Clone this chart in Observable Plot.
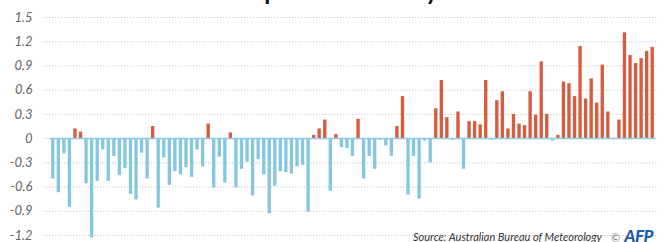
<!DOCTYPE html>
<html>
<head>
<meta charset="utf-8">
<script src="https://cdn.jsdelivr.net/npm/d3@7"></script>
<script src="https://cdn.jsdelivr.net/npm/@observablehq/plot@0.6"></script>
<style>
  body { margin: 0; background: #fff; }
  #wrap { position: relative; width: 668px; height: 242px; overflow: hidden; font-family: Lato, "Open Sans", sans-serif; }
  #title { position: absolute; top: -19px; left: 0; width: 668px; text-align: center; font-weight: 900; font-size: 22px; line-height: 22px; color: #111; white-space: nowrap; }
  #chart { position: absolute; top: 0; left: 0; }
  #source { position: absolute; left: 413px; top: 231px; font-style: italic; font-size: 11px; line-height: 12px; color: #333; white-space: nowrap; }
  #afp { position: absolute; left: 611px; top: 228px; white-space: nowrap; line-height: 16px; }
  #afp .c { font-size: 11px; color: #777; }
  #afp .l { font-size: 17px; font-weight: 900; font-style: italic; color: #1f5bb0; letter-spacing: -0.5px; }
</style>
</head>
<body>
<div id="wrap">
  <div id="title">Australia's temperature anomaly since 1910</div>
  <div id="chart"></div>
  <div id="source">Source: Australian Bureau of Meteorology</div>
  <div id="afp"><span class="c">©</span> <span class="l">AFP</span></div>
</div>
<script>
const startYear = 1910;
const endYear = 2018;
const years = d3.range(startYear, endYear + 1);
const anomalies = [
  -0.50, -0.67, -0.19, -0.85, 0.12, 0.08, -0.56, -1.23, -0.53, -0.14,
  -0.53, -0.22, -0.46, -0.37, -0.69, -0.76, -0.18, -0.50, 0.15, -0.86,
  -0.24, -0.58, -0.41, -0.45, -0.36, -0.48, -0.14, -0.35, 0.18, -0.61,
  -0.23, -0.55, 0.07, -0.61, -0.38, -0.29, -0.71, -0.26, -0.45, -0.93,
  -0.59, -0.41, -0.42, -0.44, -0.35, -0.33, -0.91, 0.04, 0.12, 0.23,
  -0.65, 0.05, -0.11, -0.12, -0.22, 0.24, -0.50, -0.22, -0.38, -0.02,
  -0.09, -0.22, 0.15, 0.52, -0.70, -0.22, -0.75, -0.03, -0.30, 0.37,
  0.72, 0.26, -0.02, 0.33, -0.38, 0.21, 0.21, 0.17, 0.72, -0.02,
  0.47, 0.58, 0.12, 0.30, 0.18, 0.16, 0.58, 0.29, 0.95, 0.30,
  -0.03, 0.04, 0.70, 0.68, 0.52, 1.14, 0.49, 0.74, 0.44, 0.91,
  0.33, 0.00, 0.23, 1.31, 1.03, 0.93, 0.99, 1.08, 1.13
];
const yTicks = [-1.2, -0.9, -0.6, -0.3, 0, 0.3, 0.6, 0.9, 1.2, 1.5];
const yTickLabels = ["-1.2", "-0.9", "-0.6", "-0.3", "0", "0.3", "0.6", "0.9", "1.2", "1.5"];

const warm = "#d65c3f";
const cool = "#85c6e1";

const data = years.map((year, i) => ({year, value: anomalies[i]}));

const chart = Plot.plot({
  width: 668,
  height: 242,
  marginLeft: 50,
  marginRight: 13,
  marginTop: 17,
  marginBottom: 7,
  style: {fontFamily: "Lato, 'Open Sans', sans-serif", background: "transparent"},
  x: {type: "band", domain: years, paddingInner: 0.4, paddingOuter: 0.2, axis: null},
  y: {domain: [-1.2, 1.5], axis: null, label: null},
  marks: [
    Plot.ruleY(yTicks, {stroke: "#c8c8c8", strokeDasharray: "1.2,1.8", strokeWidth: 1, insetLeft: -7, insetRight: -3}),
    Plot.axisY(yTicks, {
      label: null,
      tickSize: 0,
      tickPadding: 18,
      tickFormat: (d) => yTickLabels[yTicks.indexOf(d)],
      fill: "#666",
      fontSize: 13,
      fontStyle: "italic"
    }),
    Plot.barY(data, {x: "year", y: "value", fill: (d) => d.value >= 0 ? warm : cool}),
    Plot.ruleY([0], {stroke: "#8ccbe3", strokeWidth: 1.5})
  ]
});
document.getElementById("chart").appendChild(chart);
</script>
</body>
</html>
